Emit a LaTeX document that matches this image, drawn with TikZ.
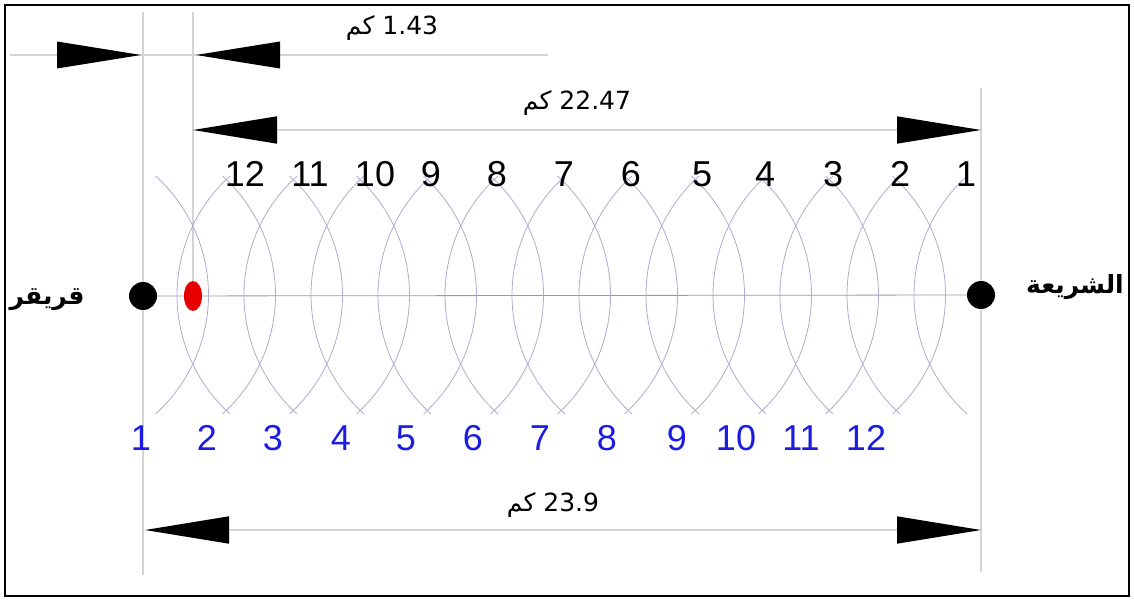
\documentclass[tikz,border=0pt]{standalone}
\usepackage{fontspec}
\setmainfont{Liberation Sans}
\newfontfamily\arabicfont[Script=Arabic]{DejaVu Sans}
\TeXXeTstate=1
\usetikzlibrary{arrows.meta,calc,backgrounds}
\definecolor{guidegray}{RGB}{212,212,212}
\definecolor{wavecol}{RGB}{172,172,208}
\definecolor{axiscol}{RGB}{150,150,185}
\definecolor{numblue}{RGB}{28,28,225}
\definecolor{srcred}{RGB}{232,0,0}
\begin{document}
\begin{tikzpicture}[x=1pt,y=-1pt,
  bighead/.tip={Triangle[length=84pt,width=27pt,color=black,fill=black]},
  guide/.style={draw=guidegray,line width=1.5pt},
  wave/.style={draw=wavecol,line width=0.8pt},
  axisline/.style={draw=axiscol,line width=0.8pt},
  dimline/.style={guide,bighead-bighead},
  headfill/.style={fill=black},
  numblack/.style={font=\fontsize{36}{36}\selectfont,text=black,inner sep=0pt},
  numblu/.style={font=\fontsize{36}{36}\selectfont,text=numblue,inner sep=0pt},
  kmlabel/.style={font=\arabicfont\fontsize{25}{25}\selectfont,inner sep=0pt},
  place/.style={font=\arabicfont\bfseries\fontsize{25}{25}\selectfont,inner sep=0pt},
  dot/.style={circle,fill=black,minimum size=28pt,inner sep=0pt}
]
\useasboundingbox (0,0) rectangle (1134,601);
\draw[line width=2pt] (5,5) rectangle (1129,596);

% main nodes
\node[dot] (qr) at (143,296) {};
\node[dot] (sh) at (981,295) {};
\fill[srcred] (193,296) ellipse [x radius=9, y radius=15];
\coordinate (src) at (193,281);

\node[place] (qrl) at (47,300) {\beginR قريقر\endR};
\node[place] (shl) at (1075,287) {\beginR الشريعة\endR};

% guide coordinates
\coordinate (v1t) at (143,12);
\coordinate (v1b) at (143,575);
\coordinate (v2t) at (193,12);
\coordinate (v3t) at (981,88);
\coordinate (v3b) at (981,572);
\coordinate (d1l) at (10,55);
\coordinate (d1r) at (548,55);
\coordinate (h1) at (141,55);
\coordinate (h2) at (196,55);
\coordinate (d2l) at (193,130);
\coordinate (d2r) at (981,130);
\coordinate (d3l) at (145,530);
\coordinate (d3r) at (981,530);

\begin{scope}[on background layer]
  \draw[guide] (v1t) -- (v1b);
  \draw[guide] (v2t) -- (src);
  \draw[guide] (v3t) -- (v3b);
  \draw[guide] (d1l) -- (d1r);
  \draw[axisline] (qr) -- (sh);
  \foreach \k in {0,...,11}{
    \draw[wave] (208.5+67*\k-160,295) ++(-48:160) arc[start angle=-48,end angle=48,radius=160];
    \draw[wave] (177+67*\k+160,295) ++(132:160) arc[start angle=132,end angle=228,radius=160];
  }
\end{scope}

% dimension arrows
\fill[headfill] (h1) -- ++(-84,-13.5) -- ++(0,27) -- cycle;
\fill[headfill] (h2) -- ++(84,-13.5) -- ++(0,27) -- cycle;
\draw[dimline] (d2l) -- (d2r);
\draw[dimline] (d3l) -- (d3r);

\node[kmlabel] (km1) at (392,28) {\beginR\beginL 1.43\endL\ كم\endR};
\node[kmlabel] (km2) at (577,103) {\beginR\beginL 22.47\endL\ كم\endR};
\node[kmlabel] (km3) at (553,505) {\beginR\beginL 23.9\endL\ كم\endR};

% black numbers
\foreach \n/\x in {12/245,11/310,10/375,9/431,8/497,7/564,6/631,5/702,4/765,3/833,2/900,1/966}{
  \node[numblack] (t\n) at (\x,174) {\n};
}
% blue numbers
\foreach \n/\x in {1/141,2/207,3/273,4/341,5/406,6/473,7/540,8/607,9/677,10/736,11/801,12/866}{
  \node[numblu] (b\n) at (\x,438) {\n};
}
\end{tikzpicture}
\end{document}
